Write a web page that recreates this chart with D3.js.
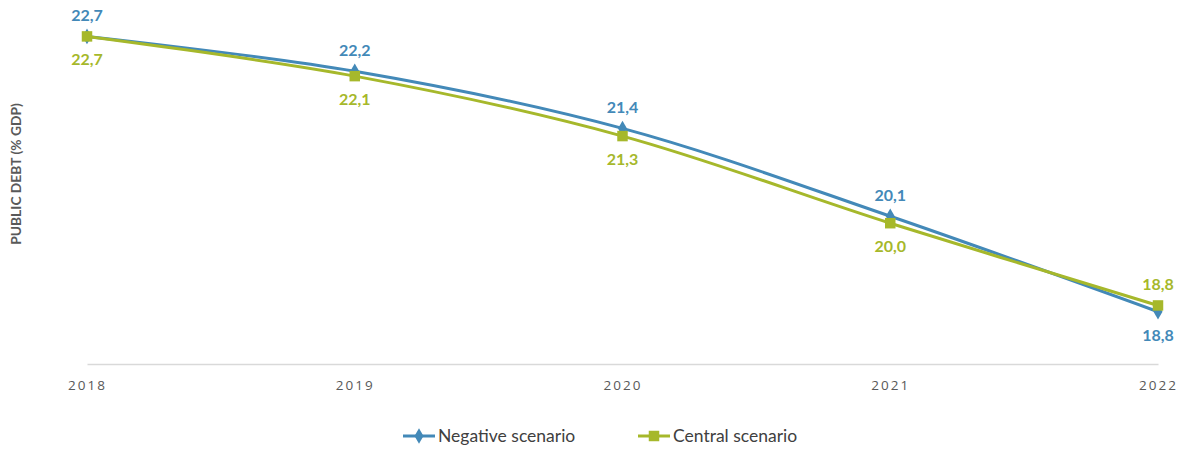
<!DOCTYPE html>
<html>
<head>
<meta charset="utf-8">
<script src="https://cdn.jsdelivr.net/npm/d3@7"></script>
<style>
  body { margin: 0; background: #fff; }
  svg { display: block; font-family: Lato, "Open Sans", sans-serif; }
</style>
</head>
<body>
<div id="chart"></div>
<script>
const years = ["2018", "2019", "2020", "2021", "2022"]
const negative = [22.7, 22.2, 21.38, 20.12, 18.75]
const central = [22.7, 22.13, 21.27, 20.02, 18.84]
const seriesNames = ["Negative scenario", "Central scenario"]

const W = 1187, H = 452
const MARGIN = {TOP: 15, BOTTOM: 88, LEFT: 87, RIGHT: 29}
const BLUE = "#4389b8", GREEN = "#a6b82b"

const comma = d3.formatLocale({decimal: ",", thousands: ".", grouping: [3], currency: ["", ""]}).format(".1f")

const svg = d3.select("#chart").append("svg")
    .attr("width", W)
    .attr("height", H)

const x = d3.scalePoint()
    .domain(years)
    .range([MARGIN.LEFT, W - MARGIN.RIGHT])

const y = d3.scaleLinear()
    .domain([18, 23])
    .range([H - MARGIN.BOTTOM, MARGIN.TOP + 0.5])

// x axis
const xAxis = svg.append("g")
    .attr("transform", `translate(0, ${H - MARGIN.BOTTOM})`)
    .call(d3.axisBottom(x).tickSize(0).tickPadding(16))
xAxis.select(".domain").attr("stroke", "#d9d9d9").attr("stroke-width", 1.5)
xAxis.selectAll("text")
    .attr("fill", "#595959")
    .attr("font-size", 13.5)
    .attr("letter-spacing", "2px")
    .attr("font-family", "Open Sans, sans-serif")

// y axis title
svg.append("text")
    .attr("transform", `translate(21, 174) rotate(-90)`)
    .attr("text-anchor", "middle")
    .attr("fill", "#595959")
    .attr("font-weight", "bold")
    .attr("font-size", 13.8)
    .text("PUBLIC DEBT (% GDP)")

const series = [
    {name: seriesNames[0], values: negative, other: central, color: BLUE, shape: d3.symbolDiamond, size: 70},
    {name: seriesNames[1], values: central, other: negative, color: GREEN, shape: d3.symbolSquare, size: 110}
]

const line = d3.line()
    .x((d, i) => x(years[i]))
    .y(d => y(d))
    .curve(d3.curveCatmullRom.alpha(0.5))

series.forEach(s => {
    svg.append("path")
        .datum(s.values)
        .attr("fill", "none")
        .attr("stroke", s.color)
        .attr("stroke-width", 3)
        .attr("d", line)
})

series.forEach((s, si) => {
    const g = svg.append("g")
    g.selectAll("path.m")
        .data(s.values)
        .join("path")
        .attr("class", "m")
        .attr("transform", (d, i) => `translate(${x(years[i])}, ${y(d)})`)
        .attr("d", d3.symbol(s.shape, s.size))
        .attr("fill", s.color)

    // label goes above if this series is higher (ties: first series above)
    g.selectAll("text")
        .data(s.values)
        .join("text")
        .attr("x", (d, i) => x(years[i]))
        .attr("y", (d, i) => {
            const above = d > s.other[i] || (d === s.other[i] && si === 0)
            return above ? y(d) - 15 : y(d) + 29
        })
        .attr("text-anchor", "middle")
        .attr("fill", s.color)
        .attr("font-weight", "bold")
        .attr("font-size", 16)
        .text(d => comma(d))
})

// legend
const legendX = [403, 638]
series.forEach((s, i) => {
    const g = svg.append("g").attr("transform", `translate(${legendX[i]}, 436)`)
    g.append("line")
        .attr("x1", 0).attr("x2", 32)
        .attr("stroke", s.color)
        .attr("stroke-width", 3)
    g.append("path")
        .attr("transform", "translate(16, 0)")
        .attr("d", d3.symbol(s.shape, s.size))
        .attr("fill", s.color)
    g.append("text")
        .attr("x", 35)
        .attr("y", 6)
        .attr("fill", "#404040")
        .attr("font-size", 17.5)
        .text(s.name)
})
</script>
</body>
</html>
